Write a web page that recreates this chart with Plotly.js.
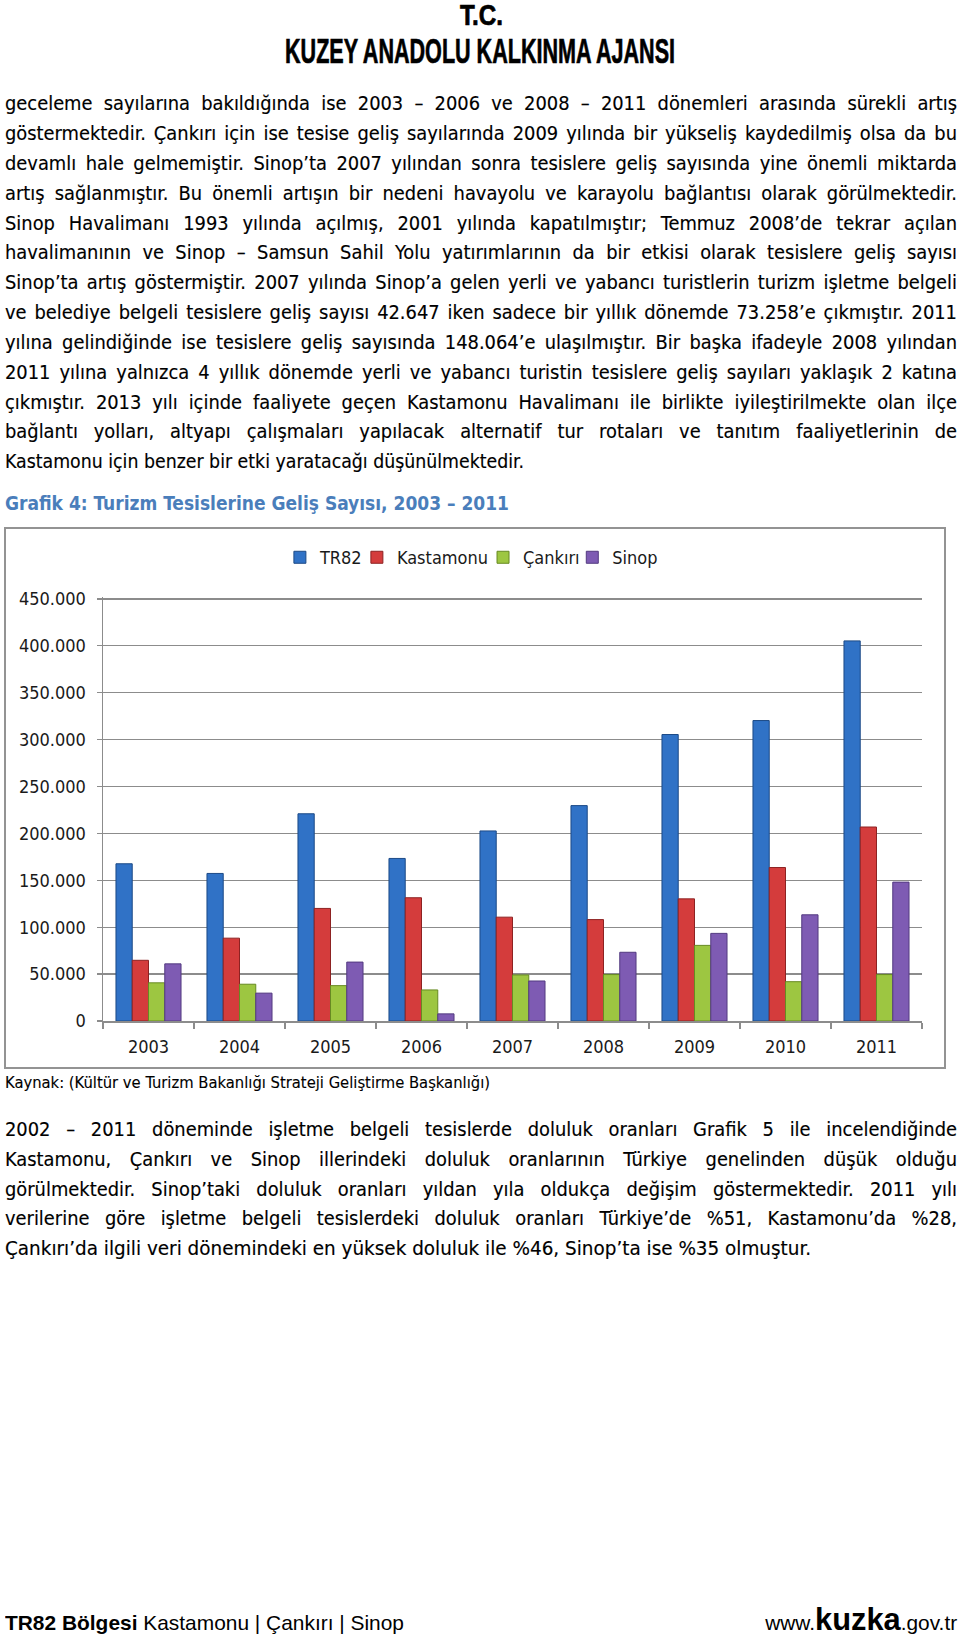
<!DOCTYPE html>
<html>
<head>
<meta charset="utf-8">
<script src="https://cdn.plot.ly/plotly-3.0.1.min.js"></script>
<style>
  html,body{margin:0;padding:0;background:#fff;}
  body{width:960px;height:1637px;position:relative;overflow:hidden;}
  .abs{position:absolute;white-space:nowrap;}
  #chartbox{position:absolute;left:4px;top:527px;width:942px;height:542px;border:2px solid #939393;box-sizing:border-box;}
  #chart{position:absolute;left:0;top:520px;width:960px;height:560px;}
</style>
</head>
<body>
<div id="chartbox"></div>
<div id="chart"></div>
<script>
// ---------------- DATA ----------------
const years = ['2003','2004','2005','2006','2007','2008','2009','2010','2011'];
const seriesNames = ['TR82','Kastamonu','Çankırı','Sinop'];
const tr82      = [167600,157300,220900,173300,202600,229600,305400,320300,405200];
const kastamonu = [64700, 88300, 120000,131400,110700,108100,130200,163600,206800];
const cankiri   = [40700, 39200, 37700, 33100, 49100, 49500, 80600, 41900, 49500];
const sinop     = [60900, 29700, 62800, 7600,  42647, 73258, 93400, 113200,148064];

const headerLine1 = 'T.C.';
const headerLine2 = 'KUZEY ANADOLU KALKINMA AJANSI';
const para1 = [
  'geceleme sayılarına bakıldığında ise 2003 – 2006 ve 2008 – 2011 dönemleri arasında sürekli artış',
  'göstermektedir. Çankırı için ise tesise geliş sayılarında 2009 yılında bir yükseliş kaydedilmiş olsa da bu',
  'devamlı hale gelmemiştir. Sinop’ta 2007 yılından sonra tesislere geliş sayısında yine önemli miktarda',
  'artış sağlanmıştır. Bu önemli artışın bir nedeni havayolu ve karayolu bağlantısı olarak görülmektedir.',
  'Sinop Havalimanı 1993 yılında açılmış, 2001 yılında kapatılmıştır; Temmuz 2008’de tekrar açılan',
  'havalimanının ve Sinop – Samsun Sahil Yolu yatırımlarının da bir etkisi olarak tesislere geliş sayısı',
  'Sinop’ta artış göstermiştir. 2007 yılında Sinop’a gelen yerli ve yabancı turistlerin turizm işletme belgeli',
  've belediye belgeli tesislere geliş sayısı 42.647 iken sadece bir yıllık dönemde 73.258’e çıkmıştır. 2011',
  'yılına gelindiğinde ise tesislere geliş sayısında 148.064’e ulaşılmıştır. Bir başka ifadeyle 2008 yılından',
  '2011 yılına yalnızca 4 yıllık dönemde yerli ve yabancı turistin tesislere geliş sayıları yaklaşık 2 katına',
  'çıkmıştır. 2013 yılı içinde faaliyete geçen Kastamonu Havalimanı ile birlikte iyileştirilmekte olan ilçe',
  'bağlantı yolları, altyapı çalışmaları yapılacak alternatif tur rotaları ve tanıtım faaliyetlerinin de',
  'Kastamonu için benzer bir etki yaratacağı düşünülmektedir.'
];
const chartTitle = 'Grafik 4: Turizm Tesislerine Geliş Sayısı, 2003 – 2011';
const sourceText = 'Kaynak: (Kültür ve Turizm Bakanlığı Strateji Geliştirme Başkanlığı)';
const para2 = [
  '2002 – 2011 döneminde işletme belgeli tesislerde doluluk oranları Grafik 5 ile incelendiğinde',
  'Kastamonu, Çankırı ve Sinop illerindeki doluluk oranlarının Türkiye genelinden düşük olduğu',
  'görülmektedir. Sinop’taki doluluk oranları yıldan yıla oldukça değişim göstermektedir. 2011 yılı',
  'verilerine göre işletme belgeli tesislerdeki doluluk oranları Türkiye’de %51, Kastamonu’da %28,',
  'Çankırı’da ilgili veri dönemindeki en yüksek doluluk ile %46, Sinop’ta ise %35 olmuştur.'
];
const footerBold = 'TR82 Bölgesi';
const footerRest = ' Kastamonu | Çankırı | Sinop';
const webPre = 'www.', webMid = 'kuzka', webPost = '.gov.tr';

// ---------------- TEXT LAYOUT ----------------
const BODY_FONT = '"DejaVu Sans Condensed","DejaVu Sans",sans-serif';
const NARROW_FONT = '"Liberation Sans Narrow","Liberation Sans",Arial,sans-serif';

function addText(text, left, top, size, opts) {
  opts = opts || {};
  const d = document.createElement('div');
  d.className = 'abs';
  d.style.left = left + 'px';
  d.style.top = top + 'px';
  d.style.fontFamily = opts.family || BODY_FONT;
  d.style.fontSize = size + 'px';
  d.style.lineHeight = (opts.lh || 30) + 'px';
  d.style.fontWeight = opts.bold ? 'bold' : 'normal';
  d.style.color = opts.color || '#000';
  d.style.transformOrigin = '0 50%';
  if (opts.stroke) d.style.webkitTextStroke = opts.stroke + 'px ' + (opts.color || '#000');
  d.textContent = text;
  document.body.appendChild(d);
  return d;
}
function w(el){ return el.getBoundingClientRect().width; }
function fitX(el, width){ const s = width / w(el); el.style.transform = 'scaleX(' + s + ')'; }

const F0 = 18;
const p1 = para1.map((t,i) => addText(t, 5, 89.3 + i*29.83, F0, {stroke:0.15}));
const p2 = para2.map((t,i) => addText(t, 5, 1115 + i*29.75, F0, {stroke:0.15}));
const r1 = 519 / w(p1[p1.length-1]);
const r2 = 806 / w(p2[p2.length-1]);
const F = F0 * (r1 + r2) / 2;
[...p1, ...p2].forEach(el => el.style.fontSize = F + 'px');
function justify(lines, lastTarget){
  lines.forEach((el, i) => {
    if (i === lines.length - 1) { fitX(el, lastTarget); return; }
    const n = (el.textContent.match(/ /g) || []).length;
    const ws = (952 - w(el)) / n;
    el.style.wordSpacing = ws + 'px';
  });
}
justify(p1, 519); justify(p2, 806);

const gt = addText(chartTitle, 5, 489, F, {bold:true, color:'#4a7ebb'});
fitX(gt, 504);
const src = addText(sourceText, 5, 1068, F*0.84, {stroke:0.1});
fitX(src, 485);

// header
const h1 = addText(headerLine1, 460, 1.4, 29, {family:NARROW_FONT, bold:true, lh:29, stroke:0.7});
fitX(h1, 43);
const h2 = addText(headerLine2, 285, 32.8, 35, {family:NARROW_FONT, bold:true, lh:35, stroke:0.7});
fitX(h2, 390);

// footer
const fl = document.createElement('div');
fl.className = 'abs';
fl.style.cssText += 'left:5px;top:1612px;font-size:21px;line-height:1;transform-origin:0 50%;color:#000;font-family:' + NARROW_FONT;
const fb = document.createElement('b'); fb.textContent = footerBold;
fl.appendChild(fb); fl.appendChild(document.createTextNode(footerRest));
document.body.appendChild(fl);
fitX(fl, 399);

const fr = document.createElement('div');
fr.className = 'abs';
fr.style.cssText += 'top:1604.4px;font-size:31px;line-height:1;transform-origin:100% 50%;color:#000;font-family:' + NARROW_FONT;
const a = document.createElement('span'); a.style.fontSize='21px'; a.textContent = webPre;
const b = document.createElement('b'); b.textContent = webMid;
const c = document.createElement('span'); c.style.fontSize='21px'; c.textContent = webPost;
fr.appendChild(a); fr.appendChild(b); fr.appendChild(c);
document.body.appendChild(fr);
const frw = w(fr);
fr.style.left = (957 - frw) + 'px';
fr.style.transform = 'scaleX(' + (192/frw) + ')';

// ---------------- CHART ----------------
const CHART_FONT = 'DejaVu Sans Condensed, DejaVu Sans, sans-serif';
const fills = ['#3072c6','#d43c3c','#9dc641','#7e5bb3'];
const edges = ['#1c4a86','#8d2222','#678a22','#533a80'];
const vals = [tr82, kastamonu, cankiri, sinop];
const legendIds = ['legend','legend2','legend3','legend4'];
const legendX = [0.216, 0.310, 0.464, 0.573];
const traces = seriesNames.map((nm, i) => ({
  type:'bar', name:nm, x:years, y:vals[i], legend:legendIds[i],
  marker:{color:fills[i], line:{color:edges[i], width:1}},
  hoverinfo:'skip'
}));
const grid = '#8c8c8c';
const layout = {
  width:960, height:560,
  margin:{l:103, r:38, t:77, b:59, pad:0},
  paper_bgcolor:'rgba(0,0,0,0)', plot_bgcolor:'rgba(0,0,0,0)',
  font:{family:CHART_FONT, size:18, color:'#1a1a1a'},
  separators:',.',
  barmode:'group', bargap:0.285, bargroupgap:0,
  showlegend:true,
  xaxis:{type:'category', showline:true, linecolor:grid, linewidth:1.5,
         ticks:'outside', tickson:'boundaries', ticklen:6, tickcolor:grid, tickwidth:1.3,
         showgrid:false, zeroline:false, ticklabelstandoff:9},
  yaxis:{range:[0,452000], tick0:0, dtick:50000, tickformat:',d',
         showgrid:true, gridcolor:grid, gridwidth:1.3,
         showline:true, linecolor:grid, linewidth:1.5,
         ticks:'outside', ticklen:5, tickcolor:grid, tickwidth:1.3,
         zeroline:false, ticklabelstandoff:7}
};
legendIds.forEach((id, i) => {
  layout[id] = {orientation:'h', x:legendX[i], xanchor:'left', y:1.093, yanchor:'middle',
                font:{size:18, color:'#1a1a1a'}, itemwidth:30, bgcolor:'rgba(0,0,0,0)', borderwidth:0};
});
Plotly.newPlot('chart', traces, layout, {displayModeBar:false, staticPlot:true});
</script>
</body>
</html>
